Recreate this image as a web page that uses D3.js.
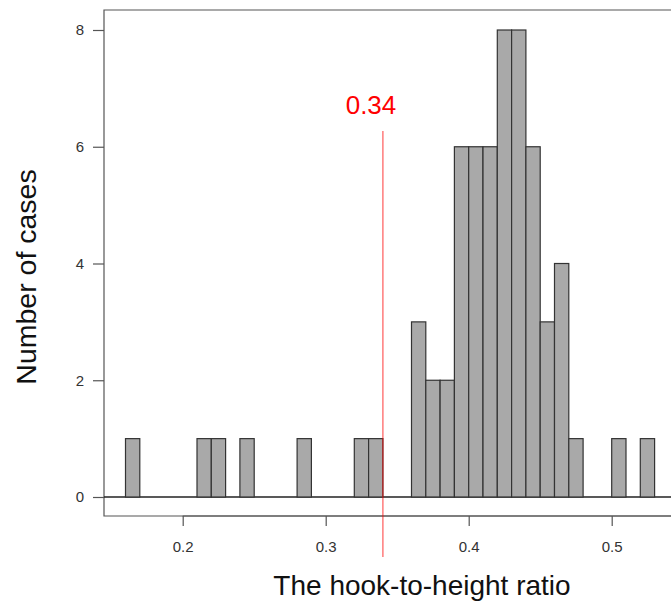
<!DOCTYPE html>
<html>
<head>
<meta charset="utf-8">
<script src="https://cdn.jsdelivr.net/npm/d3@7"></script>
<style>
    body { margin: 0; background: #fff; }
    svg { display: block; font-family: "Liberation Sans", Arial, sans-serif; }
</style>
</head>
<body>
<svg id="chart" width="671" height="603"></svg>
<script>
// histogram bins (left edge of each 0.01-wide bin) and counts
var binStarts = [0.16, 0.17, 0.18, 0.19, 0.20, 0.21, 0.22, 0.23, 0.24, 0.25,
    0.26, 0.27, 0.28, 0.29, 0.30, 0.31, 0.32, 0.33, 0.34, 0.35,
    0.36, 0.37, 0.38, 0.39, 0.40, 0.41, 0.42, 0.43, 0.44, 0.45,
    0.46, 0.47, 0.48, 0.49, 0.50, 0.51, 0.52];
var counts = [1, 0, 0, 0, 0, 1, 1, 0, 1, 0,
    0, 0, 1, 0, 0, 0, 1, 1, 0, 0,
    3, 2, 2, 6, 6, 6, 8, 8, 6, 3,
    4, 1, 0, 0, 1, 0, 1];
var binWidth = 0.01;
var xTicks = [0.2, 0.3, 0.4, 0.5];
var yTicks = [0, 2, 4, 6, 8];
var cutoff = 0.34;
var cutoffLabel = '0.34';

var bins = binStarts.map(function(s, i) {
    return { x0: s, x1: s + binWidth, count: counts[i] };
});

var frame = { left: 104, top: 10, bottom: 516, right: 690 };

var x = d3.scaleLinear().domain([0.2, 0.5]).range([182.7, 611.7]);
var y = d3.scaleLinear().domain([0, 8]).range([497, 30]);

var svg = d3.select('#chart');

// plot frame (cut off at the right edge)
svg.append('path')
    .attr('d', 'M' + frame.right + ',' + frame.top + 'H' + frame.left + 'V' + frame.bottom + 'H' + frame.right)
    .attr('fill', 'none')
    .attr('stroke', '#555')
    .attr('stroke-width', 1.2);

// zero line
svg.append('line')
    .attr('x1', frame.left).attr('x2', frame.right)
    .attr('y1', y(0)).attr('y2', y(0))
    .attr('stroke', '#222')
    .attr('stroke-width', 1.3);

// bars
svg.append('g')
    .selectAll('rect')
    .data(bins.filter(function(d) { return d.count > 0; }))
    .join('rect')
    .attr('x', function(d) { return x(d.x0); })
    .attr('y', function(d) { return y(d.count); })
    .attr('width', function(d) { return x(d.x1) - x(d.x0); })
    .attr('height', function(d) { return y(0) - y(d.count); })
    .attr('fill', '#a9a9a9')
    .attr('stroke', '#333')
    .attr('stroke-width', 1.2);

// x axis
var xAxis = svg.append('g')
    .attr('transform', 'translate(0,' + frame.bottom + ')')
    .call(d3.axisBottom(x).tickValues(xTicks).tickSize(10).tickSizeOuter(0).tickFormat(d3.format('.1f')));
xAxis.select('.domain')
    .attr('d', 'M' + x(0.2) + ',0H' + frame.right)
    .attr('stroke', '#555')
    .attr('stroke-width', 1.2);
xAxis.selectAll('.tick line').attr('stroke', '#555').attr('stroke-width', 1.2);
xAxis.selectAll('.tick text')
    .attr('y', 36)
    .attr('dy', 0)
    .attr('font-size', 15)
    .attr('font-family', '"Liberation Sans", Arial, sans-serif')
    .attr('fill', '#333');

// y axis
var yAxis = svg.append('g')
    .attr('transform', 'translate(' + frame.left + ',0)')
    .call(d3.axisLeft(y).tickValues(yTicks).tickSize(11).tickSizeOuter(0));
yAxis.select('.domain').remove();
yAxis.selectAll('.tick line').attr('stroke', '#555').attr('stroke-width', 1.2);
yAxis.selectAll('.tick text')
    .attr('x', -20)
    .attr('font-size', 15)
    .attr('font-family', '"Liberation Sans", Arial, sans-serif')
    .attr('fill', '#333');

// cutoff line and label
svg.append('line')
    .attr('x1', x(cutoff)).attr('x2', x(cutoff))
    .attr('y1', 131).attr('y2', 557)
    .attr('stroke', '#ff0000')
    .attr('stroke-opacity', 0.65)
    .attr('stroke-width', 1.2);

svg.append('text')
    .attr('x', 371)
    .attr('y', 114)
    .attr('text-anchor', 'middle')
    .attr('font-size', 26)
    .attr('fill', '#ff0000')
    .text(cutoffLabel);

// axis titles
svg.append('text')
    .attr('x', 422)
    .attr('y', 595)
    .attr('text-anchor', 'middle')
    .attr('font-size', 28)
    .attr('fill', '#111')
    .text('The hook-to-height ratio');

svg.append('text')
    .attr('transform', 'translate(36,277) rotate(-90)')
    .attr('text-anchor', 'middle')
    .attr('font-size', 28.5)
    .attr('fill', '#111')
    .text('Number of cases');
</script>
</body>
</html>
